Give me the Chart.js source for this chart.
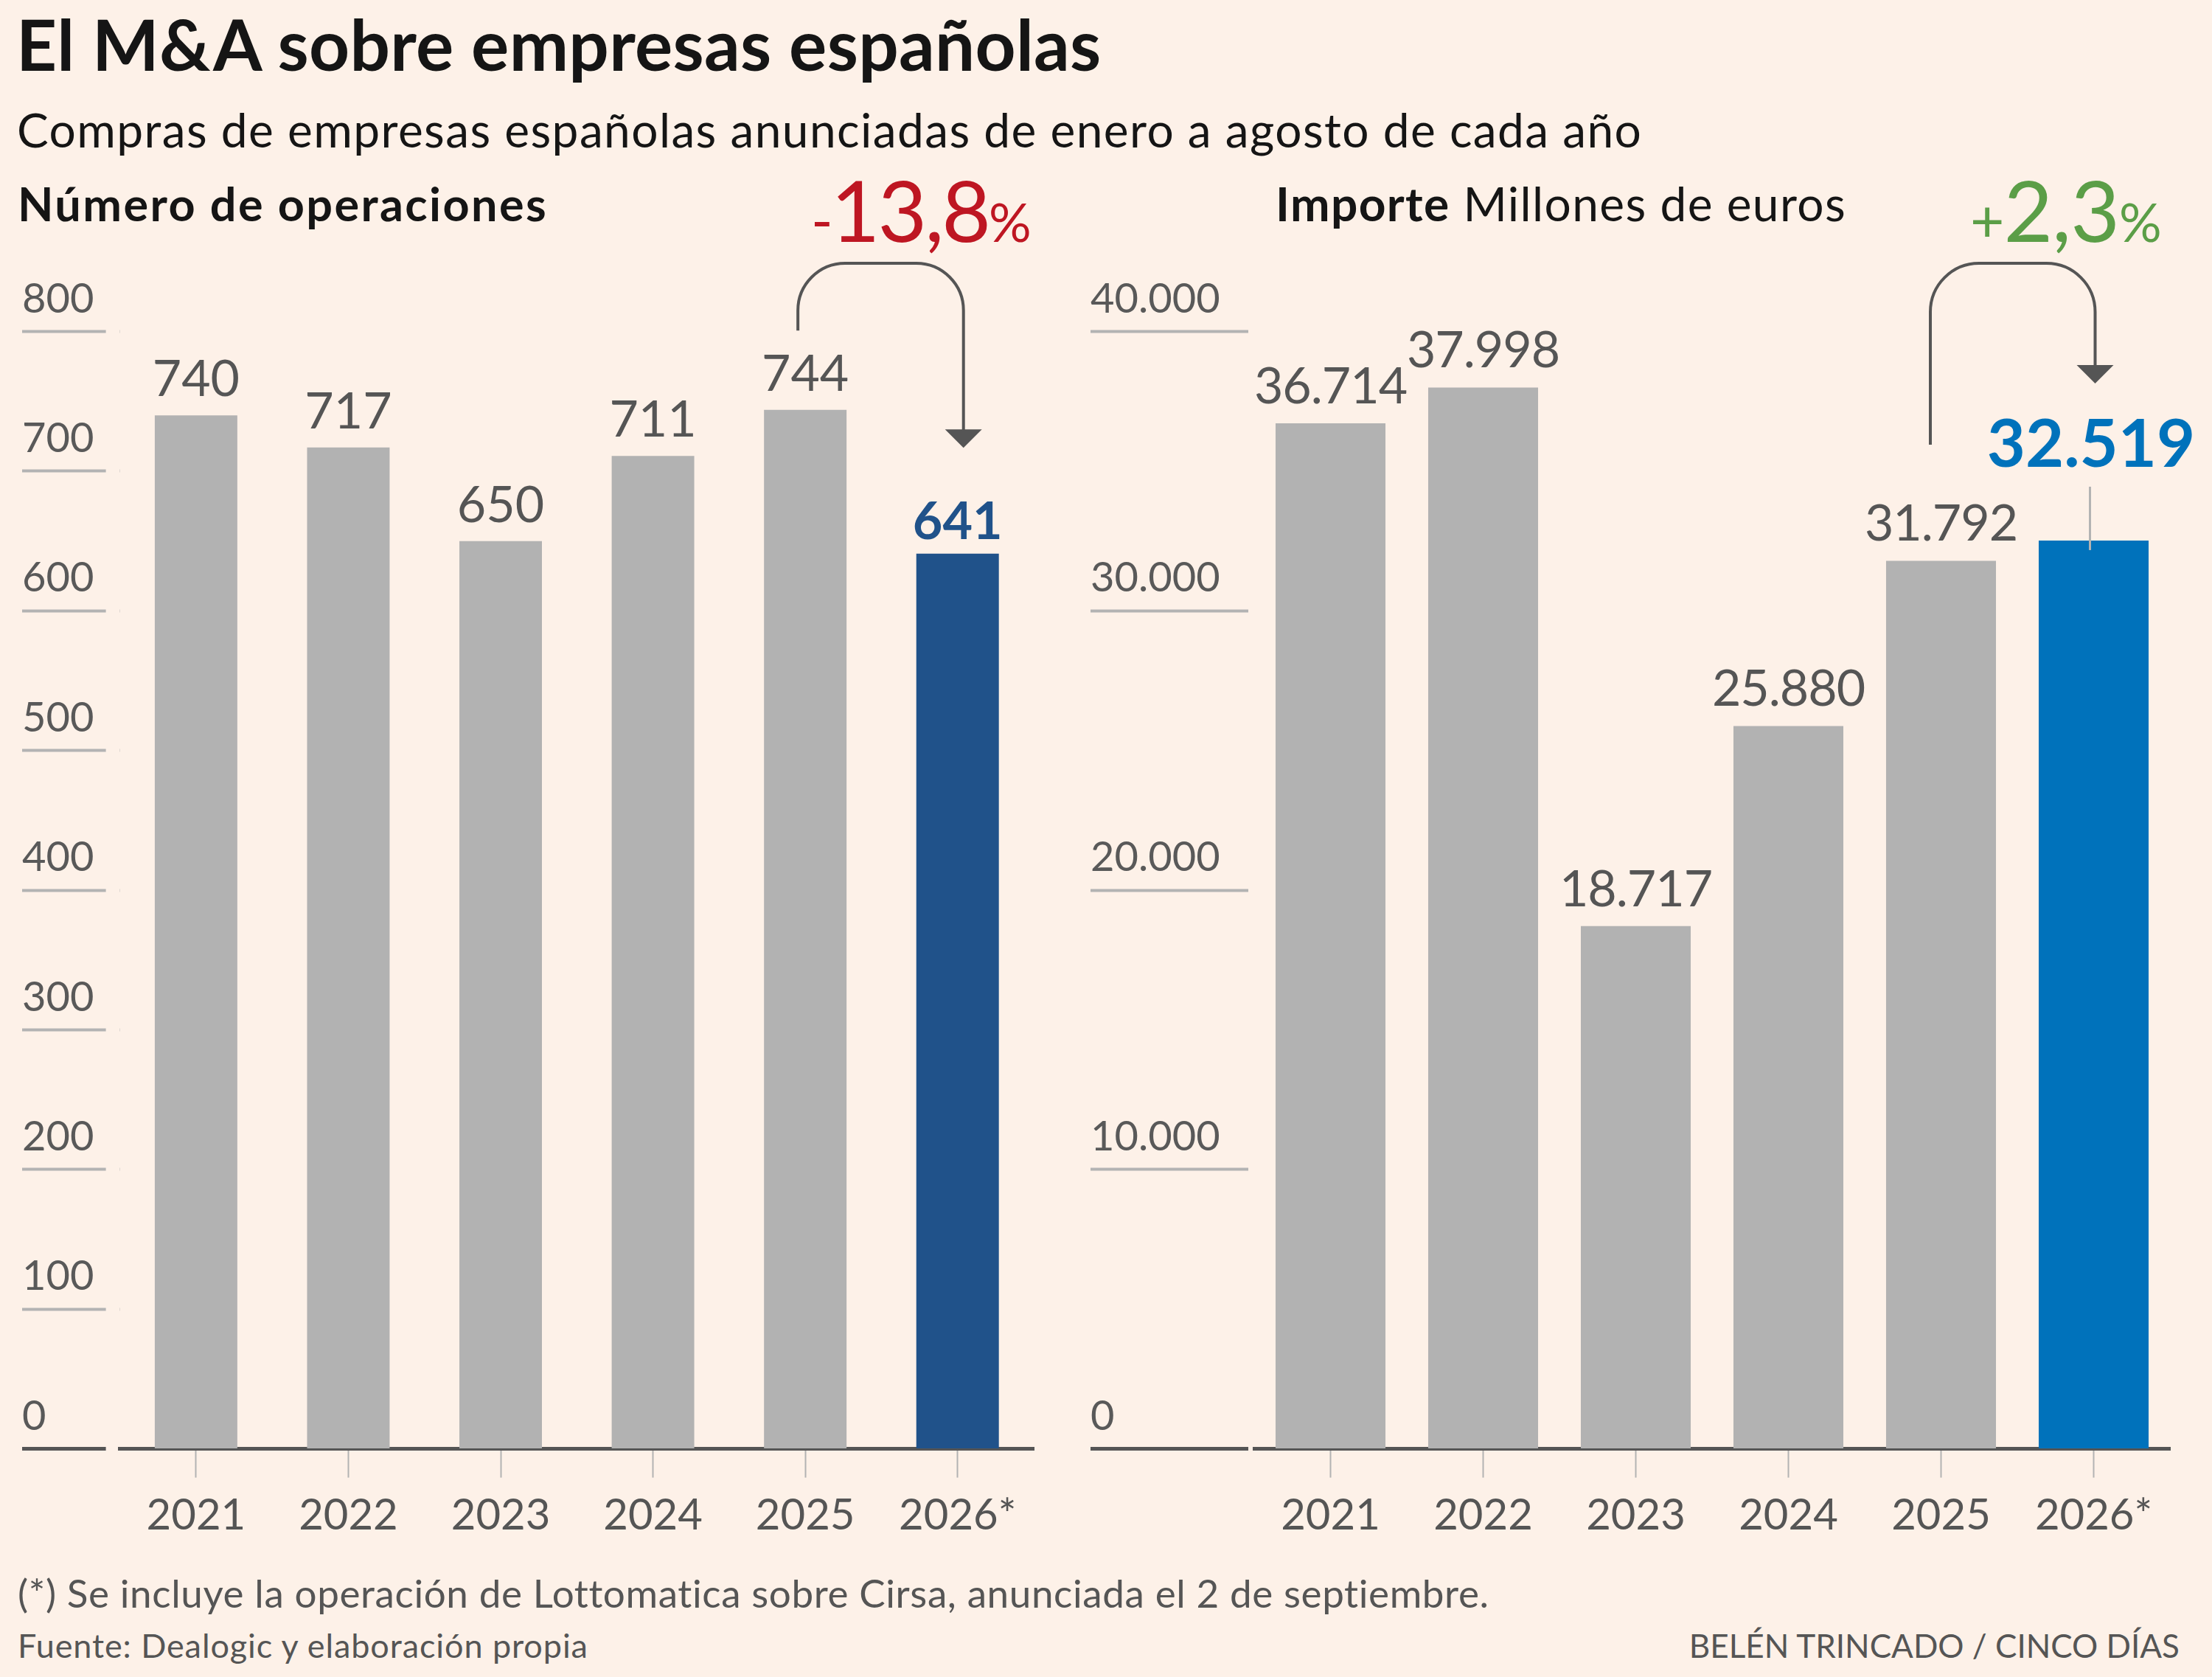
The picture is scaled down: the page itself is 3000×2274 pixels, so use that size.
<!DOCTYPE html>
<html lang="es">
<head>
<meta charset="utf-8">
<title>El M&amp;A sobre empresas españolas</title>
<script src="https://cdn.jsdelivr.net/npm/chart.js@4.4.1/dist/chart.umd.min.js"></script>
<style>
  html, body { margin: 0; padding: 0; }
  body { width: 3000px; height: 2274px; background: #fdf1e8; position: relative; overflow: hidden; font-family: Lato, sans-serif; color: #151515; }
  canvas { position: absolute; top: 0; }
  .t { position: absolute; line-height: 1; white-space: nowrap; }
  .gray { color: #555; }
</style>
</head>
<body>
<canvas id="ops" width="1450" height="2130" style="left:0"></canvas>
<canvas id="imp" width="1550" height="2130" style="left:1450px"></canvas>

<div class="t" style="left:22px; top:11px; font-size:96px; font-weight:700; letter-spacing:0.3px;">El M&amp;A sobre empresas españolas</div>
<div class="t" style="left:23px; top:144px; font-size:64px; letter-spacing:1.4px;">Compras de empresas españolas anunciadas de enero a agosto de cada año</div>
<div class="t" style="left:24px; top:244px; font-size:63px; font-weight:700; letter-spacing:2.4px;">Número de operaciones</div>
<div class="t" style="left:1730px; top:244px; font-size:64px; letter-spacing:1.4px;"><b>Importe</b> Millones de euros</div>
<div class="t" style="left:1100px; top:226px; font-size:115px; color:#be1622; letter-spacing:-3px;"><span style="font-size:80px">-</span>13,8<span style="font-size:72px; letter-spacing:0">%</span></div>
<div class="t" style="left:2672px; top:226px; font-size:115px; color:#5b9e47; letter-spacing:-1px;"><span style="font-size:80px">+</span>2,3<span style="font-size:72px; letter-spacing:0">%</span></div>

<div class="t gray" style="left:24px; top:2133px; font-size:53px; letter-spacing:0.6px;">(*) Se incluye la operación de Lottomatica sobre Cirsa, anunciada el 2 de septiembre.</div>
<div class="t gray" style="left:24px; top:2209px; font-size:45px; letter-spacing:0.9px;">Fuente: Dealogic y elaboración propia</div>
<div class="t gray" style="right:44px; top:2209px; font-size:44px;">BELÉN TRINCADO / CINCO DÍAS</div>

<script>
// data
const years = ['2021', '2022', '2023', '2024', '2025', '2026*'];
const operaciones = [740, 717, 650, 711, 744, 641];
const importe = [36714, 37998, 18717, 25880, 31792, 32519];
const opsTicks = [0, 100, 200, 300, 400, 500, 600, 700, 800];
const impTicks = [0, 10000, 20000, 30000, 40000];

const GREY_BAR = '#b2b2b2';
const INK = '#555';
const fmt = v => String(v).replace(/\B(?=(\d{3})+(?!\d))/g, '.');

// value labels over each bar, last one highlighted
const barLabels = {
  id: 'barLabels',
  afterDatasetsDraw(chart, args, o) {
    const ctx = chart.ctx;
    const values = chart.data.datasets[0].data;
    const bars = chart.getDatasetMeta(0).data;
    ctx.save();
    ctx.textAlign = 'center';
    ctx.textBaseline = 'alphabetic';
    bars.forEach((bar, i) => {
      const last = i === values.length - 1;
      ctx.font = last ? o.hiFont : o.font;
      ctx.letterSpacing = last ? '0px' : o.spacing;
      ctx.fillStyle = last ? o.hiColor : INK;
      ctx.fillText(fmt(values[i]), bar.x + (last ? o.hiDx : 0), bar.y - (last ? o.hiLift : o.lift));
    });
    if (o.leader) {
      const b = bars[bars.length - 1];
      ctx.strokeStyle = '#b3b3b3';
      ctx.lineWidth = 3;
      ctx.beginPath();
      ctx.moveTo(b.x + o.leader.dx, b.y - o.leader.up);
      ctx.lineTo(b.x + o.leader.dx, b.y + o.leader.down);
      ctx.stroke();
    }
    ctx.restore();
  }
};

// curved arrow from 2025 to 2026
const bracket = {
  id: 'bracket',
  afterDraw(chart, args, o) {
    const ctx = chart.ctx;
    const bars = chart.getDatasetMeta(0).data;
    const a = bars[bars.length - 2], b = bars[bars.length - 1];
    const x1 = a.x + o.dx1, x2 = b.x + o.dx2;
    const y1 = a.y - o.lift1, tip = b.y - o.lift2;
    const top = chart.chartArea.top - o.rise;
    const r = o.radius, hw = 25, hh = 25;
    ctx.save();
    ctx.strokeStyle = INK;
    ctx.fillStyle = INK;
    ctx.lineWidth = 4;
    ctx.beginPath();
    ctx.moveTo(x1, y1);
    ctx.lineTo(x1, top + r);
    ctx.arcTo(x1, top, x1 + r, top, r);
    ctx.lineTo(x2 - r, top);
    ctx.arcTo(x2, top, x2, top + r, r);
    ctx.lineTo(x2, tip - hh + 2);
    ctx.stroke();
    ctx.beginPath();
    ctx.moveTo(x2 - hw, tip - hh);
    ctx.lineTo(x2 + hw, tip - hh);
    ctx.lineTo(x2, tip);
    ctx.closePath();
    ctx.fill();
    ctx.restore();
  }
};

function makeChart(id, values, tickValues, o) {
  return new Chart(document.getElementById(id), {
    type: 'bar',
    data: {
      labels: years,
      datasets: [{
        data: values,
        backgroundColor: values.map((v, i) => i === values.length - 1 ? o.hi : GREY_BAR),
        barPercentage: o.barPct,
        categoryPercentage: 1
      }]
    },
    options: {
      responsive: false,
      animation: false,
      devicePixelRatio: 1,
      layout: { padding: { left: o.padLeft, right: o.padRight, top: 449.6, bottom: 0 } },
      plugins: {
        legend: { display: false },
        tooltip: { enabled: false },
        barLabels: o.labels,
        bracket: o.arrow
      },
      scales: {
        x: {
          grid: { offset: false, drawOnChartArea: false, tickLength: 39, tickColor: '#b3b3b3', tickWidth: 2 },
          border: { color: INK, width: 5 },
          ticks: { font: { family: 'Lato', size: 58 }, color: INK, padding: 17, maxRotation: 0, autoSkip: false },
          afterFit: s => { s.height = 165.4; }
        },
        y: {
          min: 0,
          max: tickValues[tickValues.length - 1],
          afterBuildTicks: s => { s.ticks = tickValues.map(v => ({ value: v })); },
          grid: {
            drawOnChartArea: false,
            tickLength: o.yW,
            tickBorderDash: [o.yW - o.gap, o.gap],
            tickColor: c => c.tick && c.tick.value === 0 ? INK : '#b3b3b3',
            tickWidth: c => c.tick && c.tick.value === 0 ? 5 : 4
          },
          border: { display: false },
          ticks: { crossAlign: 'far', labelOffset: -44, padding: 0, font: { family: 'Lato', size: 56 }, color: '#595959', callback: v => fmt(v) },
          afterFit: s => { s.width = o.yW; }
        }
      }
    },
    plugins: [barLabels, bracket]
  });
}

makeChart('ops', operaciones, opsTicks, {
  hi: '#20528a', barPct: 0.542, padLeft: 30, padRight: 48, yW: 132.6, gap: 19,
  labels: { font: '68px Lato', spacing: '0px', hiFont: 'bold 70px Lato', hiColor: '#20528a', lift: 26, hiLift: 20, hiDx: 0 },
  arrow: { dx1: -10, dx2: 8, lift1: 107.5, lift2: 143.5, rise: 92.6, radius: 64 }
});

makeChart('imp', importe, impTicks, {
  hi: '#0072bb', barPct: 0.72, padLeft: 29, padRight: 57, yW: 222, gap: 8,
  labels: { font: '68px Lato', spacing: '-1px', hiFont: 'bold 90px Lato', hiColor: '#0072bb', lift: 27, hiLift: 100, hiDx: -3.5, leader: { dx: -5, up: 73, down: 13 } },
  arrow: { dx1: -14.5, dx2: 2, lift1: 157.5, lift2: 213, rise: 92.6, radius: 66 }
});
</script>
</body>
</html>
